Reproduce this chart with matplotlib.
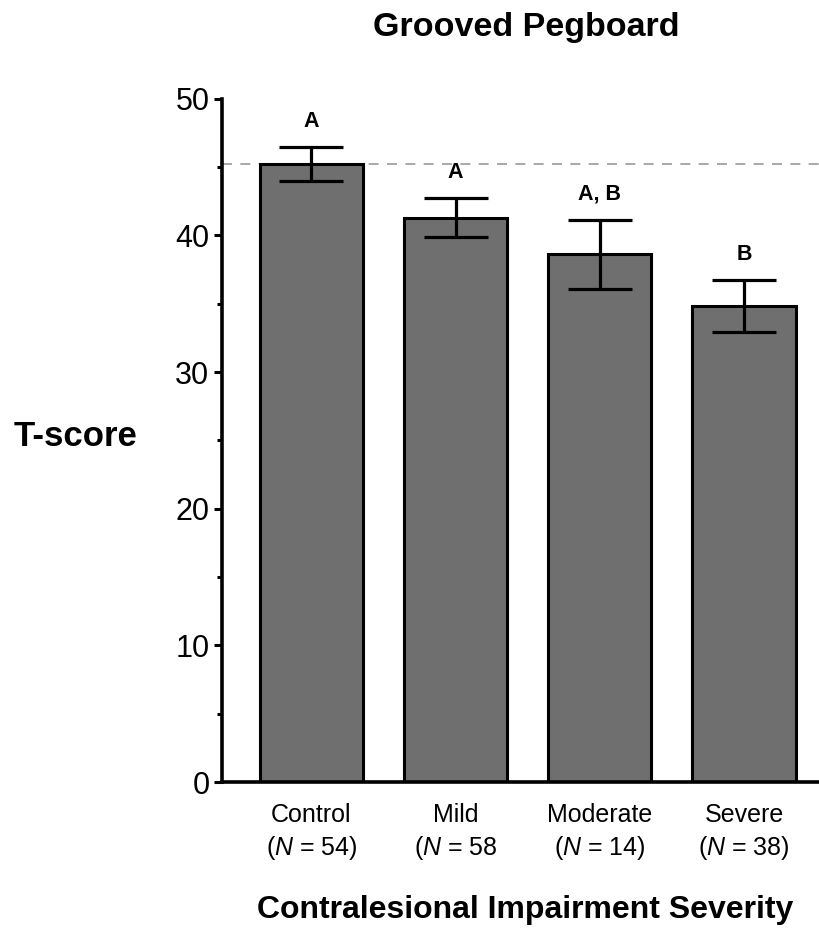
import matplotlib
matplotlib.use("Agg")
import matplotlib.pyplot as plt

plt.rcParams['font.family'] = ['Liberation Sans', 'DejaVu Sans']
plt.rcParams['mathtext.fontset'] = 'custom'
plt.rcParams['mathtext.rm'] = 'Liberation Sans'
plt.rcParams['mathtext.it'] = 'Liberation Sans:italic'

categories = ["Control", "Mild", "Moderate", "Severe"]
n_labels = ["($\\it{N}$ = 54)", "($\\it{N}$ = 58", "($\\it{N}$ = 14)", "($\\it{N}$ = 38)"]
means = [45.2, 41.3, 38.6, 34.8]
errors = [1.25, 1.4, 2.5, 1.9]
letters = ["A", "A", "A, B", "B"]
reference_line = 45.2
yticks = [0, 10, 20, 30, 40, 50]

fig = plt.figure(figsize=(8.19, 9.31), dpi=100)
ax = fig.add_axes([0.271, 0.160, 0.729, 0.734])

x = list(range(len(categories)))
ax.bar(x, means, width=0.715, color="#6f6f6f", edgecolor="black", linewidth=2.2, zorder=2)
ax.errorbar(x, means, yerr=errors, fmt="none", ecolor="black", elinewidth=2.3,
            capsize=23, capthick=2.3, zorder=3)
ax.axhline(reference_line, color="#9a9a9a", linestyle=(0, (6, 5)), linewidth=1.2, zorder=1)

for xi, m, e, lab in zip(x, means, errors, letters):
    ax.text(xi, m + e + 1.9, lab, ha="center", va="center", fontsize=15.5, fontweight="bold")

ax.set_xlim(-0.62, 3.52)
ax.set_ylim(0, 50)
ax.set_yticks(yticks)
ax.set_yticklabels([str(v) for v in yticks], fontsize=22)
ax.set_yticks([5, 15, 25, 35, 45], minor=True)
ax.tick_params(axis="y", which="major", length=6, width=2.2, pad=3)
ax.tick_params(axis="y", which="minor", length=3.5, width=2.2)
ax.set_xticks(x)
ax.set_xticklabels([f"{c}\n{n}" for c, n in zip(categories, n_labels)], fontsize=18,
                   linespacing=1.32)
ax.tick_params(axis="x", length=0, pad=15)

for s in ["top", "right"]:
    ax.spines[s].set_visible(False)
for s in ["left", "bottom"]:
    ax.spines[s].set_linewidth(2.6)

fig.text(0.642, 0.970, "Grooved Pegboard", ha="center", va="center", fontsize=24.5, fontweight="bold")
fig.text(0.092, 0.531, "T-score", ha="center", va="center", fontsize=25, fontweight="bold")
fig.text(0.641, 0.023, "Contralesional Impairment Severity", ha="center", va="center",
         fontsize=23, fontweight="bold")

fig.savefig("out.png", dpi=100)
